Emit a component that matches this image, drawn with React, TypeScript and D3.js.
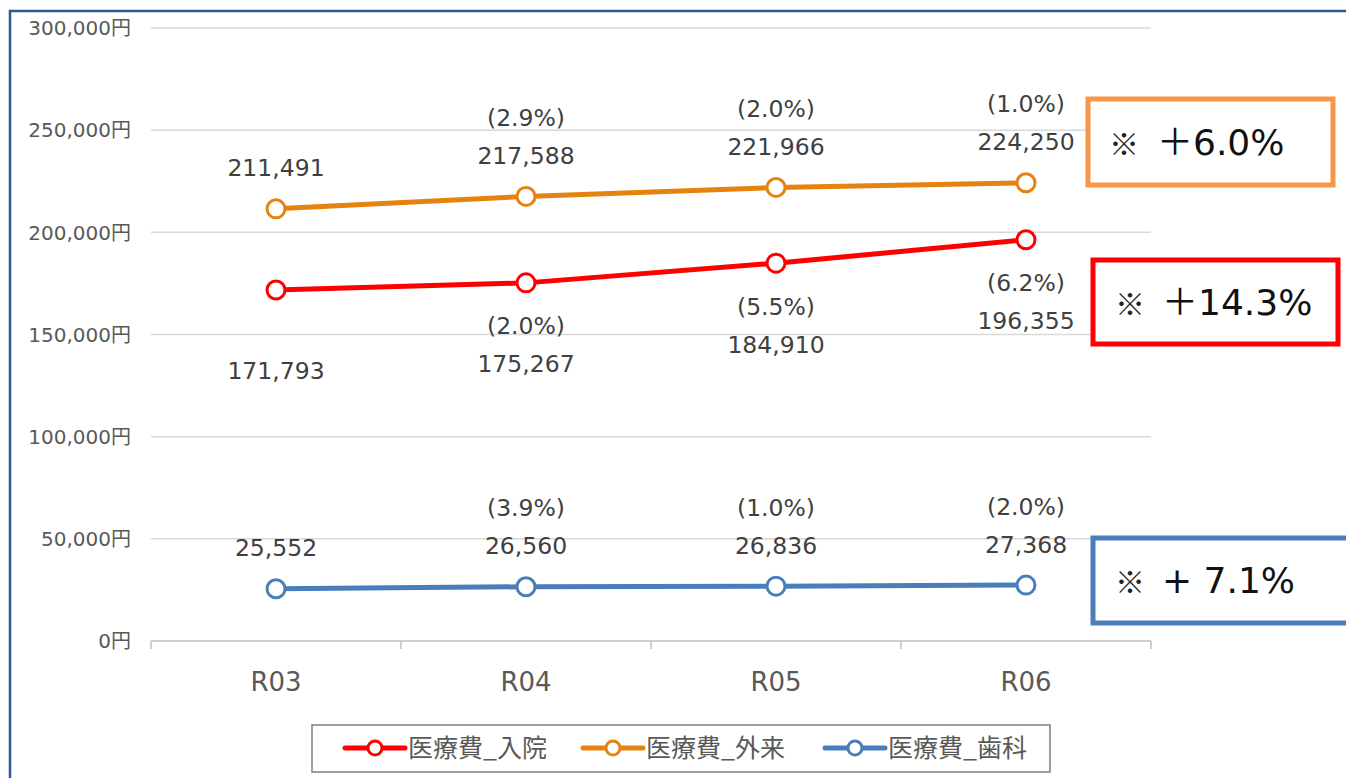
import React from "react";
import * as d3 from "d3";

const categories = ["R03", "R04", "R05", "R06"];
const inpatient = [171793, 175267, 184910, 196355];
const outpatient = [211491, 217588, 221966, 224250];
const dental = [25552, 26560, 26836, 27368];
const inpatientPct = ["", "(2.0%)", "(5.5%)", "(6.2%)"];
const outpatientPct = ["", "(2.9%)", "(2.0%)", "(1.0%)"];
const dentalPct = ["", "(3.9%)", "(1.0%)", "(2.0%)"];
const yTicks = [0, 50000, 100000, 150000, 200000, 250000, 300000];
const seriesNames = ["医療費_入院", "医療費_外来", "医療費_歯科"];
const totalLabels = ["＋6.0%", "＋14.3%", "+ 7.1%"];
const noteMark = "※";

const W = 1346, H = 778;
const FONT = "'DejaVu Sans', 'Noto Sans CJK JP', sans-serif";
const CJK = "'Noto Sans CJK JP', sans-serif";
const RED = "#ff0000", ORANGE = "#e6820e", BLUE = "#4a7ebb";

export default function App() {
  const x = d3.scaleBand<string>().domain(categories).range([151, 1151]);
  const y = d3.scaleLinear().domain([0, 300000]).range([641, 28]);
  const cx = (c: string) => (x(c) as number) + x.bandwidth() / 2;
  const fmt = d3.format(",");
  const line = d3.line<number>().x((_, i) => cx(categories[i])).y((d) => y(d));

  const series = [
    { vals: inpatient, pct: inpatientPct, color: RED, below: true },
    { vals: outpatient, pct: outpatientPct, color: ORANGE, below: false },
    { vals: dental, pct: dentalPct, color: BLUE, below: false },
  ];

  const boxes = [
    { x0: 1088, y0: 99, w: 245, h: 86, color: "#f79646", text: totalLabels[0], mx: 1109, tx: 1157 },
    { x0: 1093, y0: 260, w: 245, h: 84, color: "#ff0000", text: totalLabels[1], mx: 1115, tx: 1162 },
    { x0: 1093, y0: 538, w: 260, h: 85, color: "#4a7ebb", text: totalLabels[2], mx: 1115, tx: 1162 },
  ];

  const legendItems = [
    { name: seriesNames[0], color: RED, lx: 345 },
    { name: seriesNames[1], color: ORANGE, lx: 583 },
    { name: seriesNames[2], color: BLUE, lx: 825 },
  ];

  return (
    <svg width={W} height={H} style={{ position: "fixed", left: 0, top: 0, background: "#fff" }} fontFamily={FONT}>
      <rect x={0} y={0} width={W} height={H} fill="#fff" />
      {/* outer border */}
      <path d={`M10,${H + 5} L10,11 L${W + 5},11`} fill="none" stroke="#2f5597" strokeWidth={2.5} />
      {/* grid */}
      {yTicks.map((t) => (
        <g key={t}>
          {t > 0 && <line x1={151} x2={1151} y1={y(t)} y2={y(t)} stroke="#d9d9d9" strokeWidth={1.5} />}
          <text x={131} y={y(t)} dy="0.36em" textAnchor="end" fontSize={20} fill="#595959">
            {fmt(t)}円
          </text>
        </g>
      ))}
      {/* x axis */}
      <line x1={151} x2={1151} y1={y(0)} y2={y(0)} stroke="#bfbfbf" strokeWidth={1.5} />
      {[...categories.map((c) => x(c) as number), 1151].map((tx, i) => (
        <line key={i} x1={tx} x2={tx} y1={y(0)} y2={y(0) + 8} stroke="#bfbfbf" strokeWidth={1.5} />
      ))}
      {categories.map((c) => (
        <text key={c} x={cx(c)} y={682} dy="0.36em" textAnchor="middle" fontSize={26} fill="#595959">
          {c}
        </text>
      ))}
      {/* lines */}
      {series.map((s, si) => (
        <g key={si}>
          <path d={line(s.vals) as string} fill="none" stroke={s.color} strokeWidth={5} strokeLinecap="round" />
          {s.vals.map((v, i) => (
            <circle key={i} cx={cx(categories[i])} cy={y(v)} r={9} fill="#fff" stroke={s.color} strokeWidth={3} />
          ))}
        </g>
      ))}
      {/* data labels */}
      {series.map((s, si) =>
        s.vals.map((v, i) => {
          const px = cx(categories[i]);
          const vy = s.below ? y(v) + 81 : y(v) - 41;
          return (
            <g key={`${si}-${i}`} fontSize={23.5} fill="#404040" textAnchor="middle">
              <text x={px} y={vy} dy="0.36em">{fmt(v)}</text>
              {s.pct[i] && (
                <text x={px} y={vy - 38} dy="0.36em">{s.pct[i]}</text>
              )}
            </g>
          );
        })
      )}
      {/* total boxes */}
      {boxes.map((b, i) => (
        <g key={i}>
          <rect x={b.x0} y={b.y0} width={b.w} height={b.h} fill="#fff" stroke={b.color} strokeWidth={5} />
          <text x={b.mx} y={b.y0 + b.h / 2 + 2} dy="0.36em" fontSize={30} fill="#222" fontFamily={CJK}>
            {noteMark}
          </text>
          <text x={b.tx} y={b.y0 + b.h / 2} dy="0.36em" fontSize={36} fill="#111">
            {b.text}
          </text>
        </g>
      ))}
      {/* legend */}
      <rect x={312} y={725} width={738} height={47} fill="#fff" stroke="#7f7f7f" strokeWidth={1.5} />
      {legendItems.map((l, i) => (
        <g key={i}>
          <line x1={l.lx} x2={l.lx + 60} y1={748} y2={748} stroke={l.color} strokeWidth={5} strokeLinecap="round" />
          <circle cx={l.lx + 30} cy={748} r={7} fill="#fff" stroke={l.color} strokeWidth={3} />
          <text x={l.lx + 63} y={748} dy="0.36em" fontSize={25} fill="#595959" fontFamily={CJK}>
            {l.name}
          </text>
        </g>
      ))}
    </svg>
  );
}
